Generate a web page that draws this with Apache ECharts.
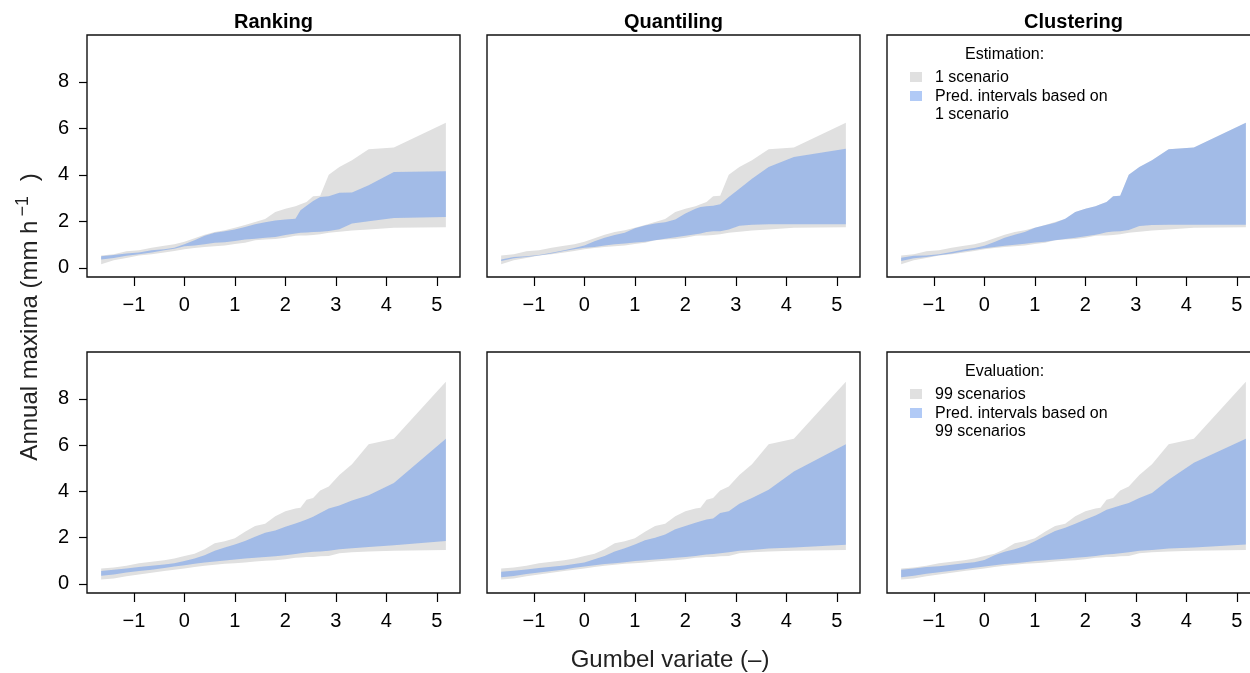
<!DOCTYPE html>
<html>
<head>
<meta charset="utf-8">
<script src="https://cdn.jsdelivr.net/npm/echarts@6/dist/echarts.min.js"></script>
<style>
html,body{margin:0;padding:0;background:#fff;}
#c{width:1250px;height:673px;}
</style>
</head>
<body>
<div id="c"></div>
<script>
// Gumbel variate (plotting positions) shared by all bands
const gumbel = [-1.65,-1.4,-1.15,-0.9,-0.65,-0.4,-0.2,0.0,0.2,0.4,0.6,0.8,1.0,1.2,1.4,1.6,1.8,2.0,2.2,2.3,2.42,2.55,2.69,2.86,3.07,3.32,3.65,4.15,5.18];

// Grey bands: 1 scenario (estimation) and 99 scenarios (evaluation)
const estLower  = [0.16,0.33,0.43,0.53,0.59,0.66,0.73,0.80,0.86,0.90,0.93,0.97,1.03,1.08,1.19,1.22,1.25,1.30,1.38,1.39,1.39,1.42,1.45,1.51,1.56,1.61,1.65,1.73,1.75];
const estUpper  = [0.53,0.59,0.72,0.76,0.87,0.95,1.02,1.13,1.28,1.43,1.55,1.62,1.73,1.85,1.98,2.11,2.41,2.55,2.65,2.74,2.84,3.08,3.10,4.01,4.34,4.63,5.10,5.18,6.25];
const evalLower = [0.19,0.24,0.33,0.41,0.49,0.56,0.61,0.67,0.73,0.79,0.83,0.87,0.90,0.93,0.97,1.00,1.03,1.07,1.13,1.14,1.16,1.17,1.20,1.21,1.33,1.37,1.40,1.43,1.47];
const evalUpper = [0.67,0.71,0.79,0.89,0.96,1.03,1.10,1.21,1.31,1.50,1.76,1.84,1.97,2.26,2.50,2.60,2.93,3.14,3.26,3.29,3.64,3.71,4.04,4.21,4.71,5.17,6.04,6.27,8.74];

// Blue bands: prediction intervals
const rankEstLo   = [0.36,0.43,0.52,0.59,0.66,0.76,0.83,0.93,0.97,1.02,1.08,1.10,1.16,1.22,1.26,1.30,1.33,1.42,1.48,1.51,1.52,1.55,1.56,1.59,1.66,1.91,2.01,2.15,2.19];
const rankEstHi   = [0.50,0.56,0.62,0.66,0.76,0.80,0.87,1.02,1.19,1.38,1.51,1.58,1.65,1.76,1.88,1.96,2.04,2.08,2.12,2.48,2.67,2.88,3.05,3.08,3.23,3.25,3.56,4.13,4.16];
const quantEstLo  = [0.30,0.42,0.47,0.54,0.62,0.73,0.80,0.87,0.90,0.97,1.02,1.05,1.09,1.13,1.19,1.26,1.32,1.38,1.45,1.48,1.55,1.58,1.58,1.65,1.81,1.86,1.88,1.88,1.88];
const quantEstHi  = [0.36,0.47,0.50,0.56,0.65,0.76,0.86,0.97,1.15,1.30,1.42,1.51,1.71,1.82,1.91,1.96,2.08,2.34,2.55,2.62,2.65,2.67,2.74,3.05,3.41,3.84,4.34,4.77,5.13];
const clustEstLo  = [0.30,0.42,0.47,0.55,0.62,0.72,0.78,0.85,0.90,0.95,1.00,1.04,1.09,1.13,1.19,1.24,1.30,1.36,1.43,1.47,1.53,1.57,1.58,1.63,1.80,1.85,1.86,1.86,1.86];
const clustEstHi  = [0.44,0.52,0.54,0.59,0.69,0.79,0.86,0.95,1.12,1.30,1.43,1.55,1.73,1.84,1.94,2.12,2.41,2.55,2.65,2.74,2.84,3.08,3.10,4.01,4.34,4.63,5.10,5.18,6.25];
const rankEvalLo  = [0.36,0.41,0.50,0.56,0.61,0.69,0.76,0.81,0.87,0.93,0.97,1.01,1.06,1.10,1.13,1.16,1.20,1.24,1.30,1.33,1.36,1.39,1.40,1.44,1.50,1.54,1.60,1.67,1.86];
const rankEvalHi  = [0.56,0.61,0.67,0.73,0.79,0.84,0.90,0.99,1.10,1.24,1.43,1.57,1.71,1.86,2.04,2.21,2.31,2.47,2.61,2.69,2.79,2.90,3.07,3.26,3.39,3.61,3.83,4.36,6.27];
const quantEvalLo = [0.29,0.34,0.43,0.50,0.56,0.63,0.70,0.76,0.81,0.86,0.90,0.94,0.99,1.03,1.06,1.09,1.13,1.17,1.21,1.24,1.27,1.30,1.33,1.37,1.43,1.47,1.53,1.57,1.69];
const quantEvalHi = [0.53,0.57,0.63,0.69,0.74,0.80,0.86,0.93,1.07,1.21,1.40,1.54,1.71,1.89,2.00,2.14,2.36,2.50,2.64,2.71,2.79,2.83,3.07,3.14,3.47,3.71,4.07,4.86,6.04];
const clustEvalLo = [0.29,0.35,0.44,0.51,0.57,0.64,0.70,0.76,0.81,0.86,0.90,0.94,0.99,1.03,1.06,1.09,1.13,1.17,1.21,1.24,1.27,1.30,1.33,1.37,1.43,1.47,1.53,1.57,1.71];
const clustEvalHi = [0.61,0.67,0.73,0.77,0.83,0.89,0.94,1.04,1.24,1.39,1.50,1.64,1.84,2.07,2.29,2.43,2.60,2.79,2.96,3.07,3.21,3.29,3.39,3.50,3.71,3.93,4.50,5.24,6.27];

const panelTitles = ['Ranking','Quantiling','Clustering'];
const xTicks = [-1,0,1,2,3,4,5];
const yTicks = [0,2,4,6,8];
const legendEst  = ['Estimation:','1 scenario','Pred. intervals based on','1 scenario'];
const legendEval = ['Evaluation:','99 scenarios','Pred. intervals based on','99 scenarios'];

const panels = [
  {grey:[estLower,estUpper],   blue:[rankEstLo,rankEstHi]},
  {grey:[estLower,estUpper],   blue:[quantEstLo,quantEstHi]},
  {grey:[estLower,estUpper],   blue:[clustEstLo,clustEstHi]},
  {grey:[evalLower,evalUpper], blue:[rankEvalLo,rankEvalHi]},
  {grey:[evalLower,evalUpper], blue:[quantEvalLo,quantEvalHi]},
  {grey:[evalLower,evalUpper], blue:[clustEvalLo,clustEvalHi]}
];

const FONT = '"Liberation Sans", Arial, Helvetica, sans-serif';
const GREY = '#E0E0E0';
const BLUE = 'rgba(100,149,237,0.5)';
const colLeft = [87,487,887];
const rowTop = [35,352];
const rowH = [242,241];
const W = 373;

function minusFmt(v){ return v < 0 ? '\u2212' + Math.abs(v) : String(v); }

function bandRenderer(lo, hi, color){
  return function(params, api){
    if (params.dataIndex !== 0) return null;
    const pts = [];
    for (let k = 0; k < gumbel.length; k++) pts.push(api.coord([gumbel[k], hi[k]]));
    for (let k = gumbel.length - 1; k >= 0; k--) pts.push(api.coord([gumbel[k], lo[k]]));
    return {type:'polygon', shape:{points:pts}, style:{fill:color}, silent:true};
  };
}

const grids = [], xAxes = [], yAxes = [], series = [];
panels.forEach((p, i) => {
  const r = Math.floor(i/3), c = i % 3;
  grids.push({left:colLeft[c], top:rowTop[r], width:W, height:rowH[r], show:true,
    borderColor:'#111', borderWidth:1.4, backgroundColor:'transparent', containLabel:false, outerBoundsMode:'none'});
  xAxes.push({gridIndex:i, type:'value', min:-1.93, max:5.46, position:'bottom',
    axisLine:{show:false, onZero:false}, splitLine:{show:false},
    axisTick:{show:true, length:9, customValues:xTicks, lineStyle:{color:'#000', width:1.2}},
    axisLabel:{customValues:xTicks, formatter:minusFmt, fontSize:20, color:'#000', fontFamily:FONT, margin:18}});
  yAxes.push({gridIndex:i, type:'value', min:-0.39, max:10.02, position:'left',
    axisLine:{show:false, onZero:false}, splitLine:{show:false},
    axisTick:{show:c===0, length:8, customValues:yTicks, lineStyle:{color:'#000', width:1.2}},
    axisLabel:{show:c===0, customValues:yTicks, formatter:minusFmt, fontSize:20, color:'#000', fontFamily:FONT, margin:18}});
  series.push({type:'custom', xAxisIndex:i, yAxisIndex:i, silent:true,
    renderItem:bandRenderer(p.grey[0], p.grey[1], GREY),
    data:gumbel.map((x,k)=>[x, p.grey[1][k]]), z:1});
  series.push({type:'custom', xAxisIndex:i, yAxisIndex:i, silent:true,
    renderItem:bandRenderer(p.blue[0], p.blue[1], BLUE),
    data:gumbel.map((x,k)=>[x, p.blue[1][k]]), z:2});
});

const titleGraphics = panelTitles.map((t, c) => ({type:'text', x:colLeft[c] + W/2, y:22,
  style:{text:t, font:'bold 20px '+FONT, fill:'#000', align:'center', verticalAlign:'middle'}}));

function legendGraphics(lines, top){
  const g = [];
  const offs = [19.5, 42.5, 61.5, 80];
  g.push({type:'text', x:965, y:top+offs[0], style:{text:lines[0], font:'16px '+FONT, fill:'#000', verticalAlign:'middle', align:'left'}});
  g.push({type:'rect', shape:{x:910, y:top+37, width:12, height:10}, style:{fill:GREY}});
  g.push({type:'rect', shape:{x:910, y:top+56, width:12, height:10}, style:{fill:'#B1CAF6'}});
  for (let k = 1; k < 4; k++) {
    g.push({type:'text', x:935, y:top+offs[k], style:{text:lines[k], font:'16px '+FONT, fill:'#000', verticalAlign:'middle', align:'left'}});
  }
  return g;
}

const graphics = [].concat(
  titleGraphics,
  legendGraphics(legendEst, rowTop[0]),
  legendGraphics(legendEval, rowTop[1]),
  [
    {type:'text', x:670, y:660, style:{text:'Gumbel variate (\u2013)', font:'24px '+FONT, fill:'#222', align:'center', verticalAlign:'middle'}},
    {type:'text', x:28, y:317, rotation:Math.PI/2,
      style:{text:'{a|Annual maxima (mm h}{b|\u22121}{a| )}', align:'center', verticalAlign:'middle',
        rich:{a:{fontSize:24, fontFamily:FONT, fill:'#222', lineHeight:28, verticalAlign:'bottom'},
              b:{fontSize:18, fontFamily:FONT, fill:'#222', verticalAlign:'bottom', padding:[0,8,10,4]}}}}
  ]
);

const chart = echarts.init(document.getElementById('c'), null, {renderer:'canvas'});
chart.setOption({
  animation:false,
  backgroundColor:'#fff',
  grid:grids,
  xAxis:xAxes,
  yAxis:yAxes,
  series:series,
  graphic:{elements:graphics}
});
</script>
</body>
</html>
